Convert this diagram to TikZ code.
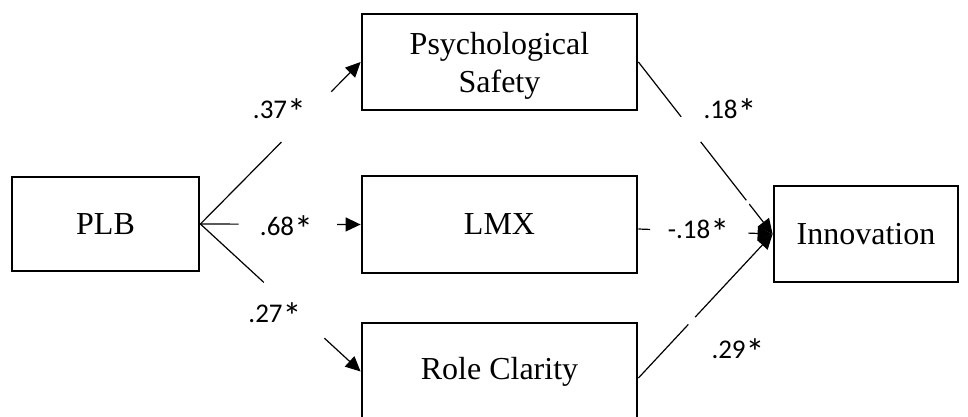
\documentclass[tikz,border=0pt]{standalone}
\usepackage{fontspec}
\setmainfont{Liberation Serif}
\newfontfamily\labfont{Carlito}
\usetikzlibrary{calc,arrows.meta}
\newcommand\labstar{\raisebox{-7pt}{\scalebox{1.4}{*}}}
\begin{document}
\begin{tikzpicture}[x=1pt,y=-1pt,
  box/.style={draw=black,line width=2.8pt,minimum width=275pt,minimum height=96pt,inner sep=0pt,align=center,font=\fontsize{32}{38}\selectfont},
  txt/.style={align=center,inner sep=0pt,font=\fontsize{32}{38}\selectfont},
  ln/.style={line width=1.2pt},
  arr/.style={-{Triangle[length=15pt,width=14pt]}},
  lab/.style={anchor=base,font=\labfont\fontsize{27}{30}\selectfont,inner sep=0pt}]
\useasboundingbox (0,0) rectangle (968,416);
\clip (0,0) rectangle (968,416);
\node[box,minimum width=187pt,minimum height=94pt] (PLB) at (105.5,224) {PLB};
\node[box] (PS) at (499.5,62) {};
\node[txt] (PStext) at ($(PS.center)+(0,4)$) {Psychological\\Safety};
\node[box,minimum height=97pt] (LMX) at (499.5,224.5) {LMX};
\node[box,minimum height=97pt] (RC) at (499.5,371.5) {Role Clarity};
\node[box,minimum width=184pt] (INN) at (866,234) {Innovation};
\coordinate (lmxo) at ($(LMX.east)+(0,4.5)$);
\coordinate (rco) at ($(RC.east)+(0,6.5)$);
% PLB -> mediators
\draw[ln] (PLB.east) -- ($(PLB.east)!0.506!(PS.west)$);
\draw[ln,arr] ($(PLB.east)!0.817!(PS.west)$) -- (PS.west);
\draw[ln] (PLB.east) -- ($(PLB.east)!0.238!(LMX.west)$);
\draw[ln,arr] ($(PLB.east)!0.854!(LMX.west)$) -- (LMX.west);
\draw[ln] (PLB.east) -- ($(PLB.east)!0.396!(RC.west)$);
\draw[ln,arr] ($(PLB.east)!0.774!(RC.west)$) -- (RC.west);
% mediators -> Innovation
\draw[ln] (PS.east) -- ($(PS.east)!0.319!(INN.west)$);
\draw[ln] ($(PS.east)!0.464!(INN.west)$) -- ($(PS.east)!0.804!(INN.west)$);
\draw[ln,arr] ($(PS.east)!0.826!(INN.west)$) -- (INN.west);
\draw[ln] (lmxo) -- ($(lmxo)!0.087!(INN.west)$);
\draw[ln,arr] ($(lmxo)!0.82!(INN.west)$) -- (INN.west);
\draw[ln] (rco) -- ($(rco)!0.372!(INN.west)$);
\draw[ln,arr] ($(rco)!0.423!(INN.west)$) -- (INN.west);
% labels
\node[lab] (l1) at (279.5,118) {.37\labstar};
\node[lab] (l2) at (286.5,235) {.68\labstar};
\node[lab] (l3) at (275,322) {.27\labstar};
\node[lab] (l4) at (730,118) {.18\labstar};
\node[lab] (l5) at (698.5,238) {-.18\labstar};
\node[lab] (l6) at (738,358) {.29\labstar};
\end{tikzpicture}
\end{document}
